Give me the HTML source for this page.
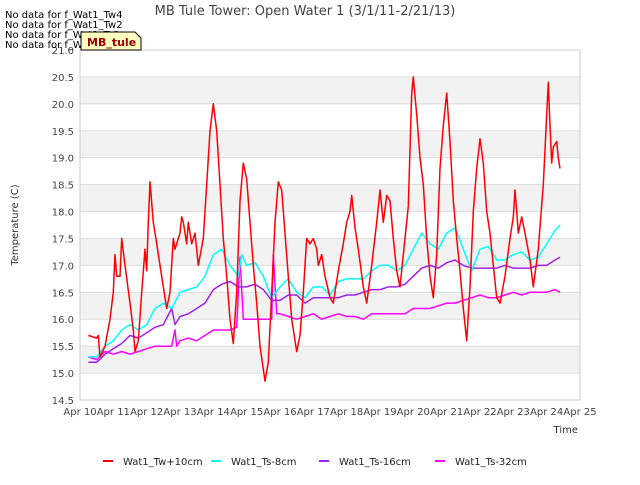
<!DOCTYPE html>
<html><head><meta charset="utf-8"><style>
body{margin:0;background:#fff;font-family:"Liberation Sans","DejaVu Sans",sans-serif}
</style></head><body>
<svg id="chart" width="640" height="480" xmlns="http://www.w3.org/2000/svg" font-family="DejaVu Sans, Liberation Sans, sans-serif">
<g id="bands"></g>
<g id="grid"></g>
<rect x="80" y="50" width="500" height="350" fill="none" stroke="#ccc"/>
<g id="series"></g>
<g id="axes"></g>
<text x="305" y="15" font-size="13" fill="#444" text-anchor="middle">MB Tule Tower: Open Water 1 (3/1/11-2/21/13)</text>
<text x="18" y="225" font-size="10" fill="#333" text-anchor="middle" transform="rotate(-90 18 225)">Temperature (C)</text>
<text x="578" y="433" font-size="10" fill="#333" text-anchor="end">Time</text>
<g font-size="10" fill="#000">
<text x="5" y="18">No data for f_Wat1_Tw4</text>
<text x="5" y="28">No data for f_Wat1_Tw2</text>
<text x="5" y="38">No data for f_Wat1_Ts2</text>
<text x="5" y="48">No data for f_Wat1_Ts4</text>
</g>
<g>
<path d="M81 32 L135 32 L141 38 L141 50 L81 50 Z" fill="#ffffc0" stroke="#000" stroke-width="1"/>
<text x="87" y="46" font-size="11" font-weight="bold" fill="#a00000">MB_tule</text>
</g>
<g id="legend"></g>
</svg>
<script>
const yTicks=[14.5,15.0,15.5,16.0,16.5,17.0,17.5,18.0,18.5,19.0,19.5,20.0,20.5,21.0];
const xTickLabels=["Apr 10","Apr 11","Apr 12","Apr 13","Apr 14","Apr 15","Apr 16","Apr 17","Apr 18","Apr 19","Apr 20","Apr 21","Apr 22","Apr 23","Apr 24","Apr 25"];
const seriesNames=["Wat1_Tw+10cm","Wat1_Ts-8cm","Wat1_Ts-16cm","Wat1_Ts-32cm"];
const seriesColors=["#ff0000","#00ffff","#a020f0","#ff00ff"];
const twDays=[0.25,0.5,0.55,0.6,0.75,0.9,1.0,1.05,1.1,1.2,1.25,1.35,1.5,1.6,1.65,1.75,1.85,1.95,2.0,2.05,2.1,2.2,2.3,2.4,2.5,2.6,2.7,2.8,2.85,3.0,3.05,3.1,3.2,3.25,3.35,3.45,3.55,3.7,3.8,3.9,4.0,4.1,4.2,4.3,4.4,4.5,4.6,4.7,4.8,4.9,5.0,5.1,5.2,5.3,5.4,5.55,5.65,5.75,5.85,5.95,6.05,6.15,6.25,6.35,6.5,6.6,6.7,6.8,6.9,7.0,7.1,7.15,7.25,7.35,7.5,7.6,7.75,7.9,8.0,8.1,8.15,8.25,8.35,8.5,8.6,8.75,8.9,9.0,9.1,9.2,9.3,9.4,9.5,9.6,9.75,9.85,9.95,10.0,10.1,10.2,10.3,10.4,10.5,10.6,10.7,10.8,10.9,11.0,11.1,11.2,11.3,11.4,11.5,11.6,11.7,11.8,11.9,12.0,12.1,12.2,12.3,12.4,12.5,12.6,12.75,12.9,13.0,13.05,13.15,13.25,13.35,13.5,13.6,13.75,13.9,14.0,14.05,14.1,14.15,14.2,14.3,14.35,14.4];
const twVals=[15.7,15.65,15.7,15.3,15.5,16.0,16.5,17.2,16.8,16.8,17.5,17.0,16.3,15.8,15.4,15.6,16.5,17.3,16.9,17.8,18.55,17.8,17.4,17.0,16.6,16.2,16.5,17.5,17.3,17.6,17.9,17.8,17.4,17.8,17.4,17.6,17.0,17.5,18.5,19.5,20.0,19.5,18.5,17.5,16.8,16.0,15.55,16.5,18.2,18.9,18.6,17.8,17.0,16.3,15.5,14.85,15.2,16.5,17.8,18.55,18.4,17.6,16.8,16.0,15.4,15.7,16.5,17.5,17.4,17.5,17.3,17.0,17.2,16.8,16.4,16.3,16.9,17.4,17.8,18.0,18.3,17.7,17.3,16.6,16.3,17.0,17.8,18.4,17.8,18.3,18.2,17.5,16.9,16.6,17.5,18.1,20.2,20.5,19.8,19.0,18.5,17.5,16.8,16.4,17.2,18.8,19.6,20.2,19.3,18.2,17.5,16.9,16.2,15.6,16.6,18.0,18.8,19.35,18.9,18.0,17.6,17.0,16.4,16.3,16.8,17.5,17.9,18.4,17.6,17.9,17.6,17.1,16.6,17.3,18.5,19.8,20.4,19.6,18.9,19.2,19.3,19.0,18.8];
const ts8Days=[0.25,0.5,0.75,1.0,1.25,1.5,1.75,2.0,2.25,2.5,2.75,3.0,3.25,3.5,3.75,4.0,4.25,4.5,4.75,4.85,5.0,5.25,5.5,5.75,6.0,6.25,6.5,6.75,7.0,7.25,7.5,7.75,8.0,8.25,8.5,8.75,9.0,9.25,9.5,9.75,10.0,10.25,10.5,10.75,11.0,11.25,11.5,11.75,12.0,12.25,12.5,12.75,13.0,13.25,13.5,13.75,14.0,14.25,14.4];
const ts8Vals=[15.3,15.3,15.5,15.6,15.8,15.9,15.8,15.9,16.2,16.3,16.2,16.5,16.55,16.6,16.8,17.2,17.3,17.0,16.8,17.2,17.0,17.05,16.8,16.4,16.6,16.75,16.5,16.4,16.6,16.6,16.45,16.7,16.75,16.75,16.75,16.9,17.0,17.0,16.9,17.0,17.3,17.6,17.4,17.3,17.6,17.7,17.3,16.9,17.3,17.35,17.1,17.1,17.2,17.25,17.1,17.15,17.4,17.65,17.75];
const ts16Days=[0.25,0.5,0.75,1.0,1.25,1.5,1.75,2.0,2.25,2.5,2.75,2.85,3.0,3.25,3.5,3.75,4.0,4.25,4.5,4.75,5.0,5.25,5.5,5.75,6.0,6.25,6.5,6.75,7.0,7.25,7.5,7.75,8.0,8.25,8.5,8.75,9.0,9.25,9.5,9.75,10.0,10.25,10.5,10.75,11.0,11.25,11.5,11.75,12.0,12.25,12.5,12.75,13.0,13.25,13.5,13.75,14.0,14.25,14.4];
const ts16Vals=[15.2,15.2,15.35,15.45,15.55,15.7,15.65,15.75,15.85,15.9,16.2,15.9,16.05,16.1,16.2,16.3,16.55,16.65,16.7,16.6,16.6,16.65,16.55,16.35,16.35,16.45,16.45,16.3,16.4,16.4,16.4,16.4,16.45,16.45,16.5,16.55,16.55,16.6,16.6,16.65,16.8,16.95,17.0,16.95,17.05,17.1,17.0,16.95,16.95,16.95,16.95,17.0,16.95,16.95,16.95,17.0,17.0,17.1,17.15];
const ts32Days=[0.25,0.5,0.75,1.0,1.25,1.5,1.75,2.0,2.25,2.5,2.75,2.85,2.9,3.0,3.25,3.5,3.75,4.0,4.25,4.5,4.7,4.8,4.9,5.0,5.25,5.5,5.75,5.8,5.9,6.0,6.25,6.5,6.75,7.0,7.25,7.5,7.75,8.0,8.25,8.5,8.75,9.0,9.25,9.5,9.75,10.0,10.25,10.5,10.75,11.0,11.25,11.5,11.75,12.0,12.25,12.5,12.75,13.0,13.25,13.5,13.75,14.0,14.25,14.4];
const ts32Vals=[15.3,15.25,15.4,15.35,15.4,15.35,15.4,15.45,15.5,15.5,15.5,15.8,15.5,15.6,15.65,15.6,15.7,15.8,15.8,15.8,15.85,17.15,16.0,16.0,16.0,16.0,16.0,17.2,16.1,16.1,16.05,16.0,16.05,16.1,16.0,16.05,16.1,16.05,16.05,16.0,16.1,16.1,16.1,16.1,16.1,16.2,16.2,16.2,16.25,16.3,16.3,16.35,16.4,16.45,16.4,16.4,16.45,16.5,16.45,16.5,16.5,16.5,16.55,16.5];

const NS="http://www.w3.org/2000/svg";
const X0=80,X1=580,Y0=400,Y1=50,DMIN=0,DMAX=15,VMIN=14.5,VMAX=21.0;
function xs(d){return X0+(d-DMIN)/(DMAX-DMIN)*(X1-X0);}
function ys(v){return Y0-(v-VMIN)/(VMAX-VMIN)*(Y0-Y1);}
function mk(tag,attrs,parent){const e=document.createElementNS(NS,tag);for(const k in attrs)e.setAttribute(k,attrs[k]);parent.appendChild(e);return e;}
const bands=document.getElementById('bands'),grid=document.getElementById('grid'),axes=document.getElementById('axes'),ser=document.getElementById('series'),leg=document.getElementById('legend');
for(let i=0;i<yTicks.length-1;i++){
  if(i%2===1){const r=mk('rect',{x:X0,y:ys(yTicks[i+1]),width:X1-X0,height:ys(yTicks[i])-ys(yTicks[i+1]),fill:'#f2f2f2'},bands);
  
  }
}
yTicks.forEach(v=>{
  const l=mk('line',{x1:X0,x2:X1,y1:ys(v),y2:ys(v),stroke:'#ddd'},grid);
  
  
  const t=mk('text',{x:X0-6,y:ys(v)+4,'font-size':10,fill:'#444','text-anchor':'end'},axes);
  
  
  t.textContent=v.toFixed(1);
});
xTickLabels.forEach((s,i)=>{
  const t=mk('text',{x:xs(i),y:415,'font-size':10,fill:'#444','text-anchor':'middle'},axes);
  
  
  t.textContent=s;
});
const allDays=[twDays,ts8Days,ts16Days,ts32Days],allVals=[twVals,ts8Vals,ts16Vals,ts32Vals];
[3,2,1,0].forEach(i=>{
  const pts=allDays[i].map((d,j)=>xs(d).toFixed(1)+','+ys(allVals[i][j]).toFixed(1)).join(' ');
  const p=mk('polyline',{points:pts,fill:'none',stroke:seriesColors[i],'stroke-width':1.5,'stroke-linejoin':'round'},ser);
  
  
});
const legX=[103,211,319,435];
seriesNames.forEach((s,i)=>{
  const g=mk('g',{},leg);
  
  
  mk('line',{x1:legX[i],x2:legX[i]+10,y1:461,y2:461,stroke:seriesColors[i],'stroke-width':2},g);
  const t=mk('text',{x:legX[i]+20,y:465,'font-size':10,fill:'#222'},g);
  t.textContent=s;
});
</script>
</body></html>
